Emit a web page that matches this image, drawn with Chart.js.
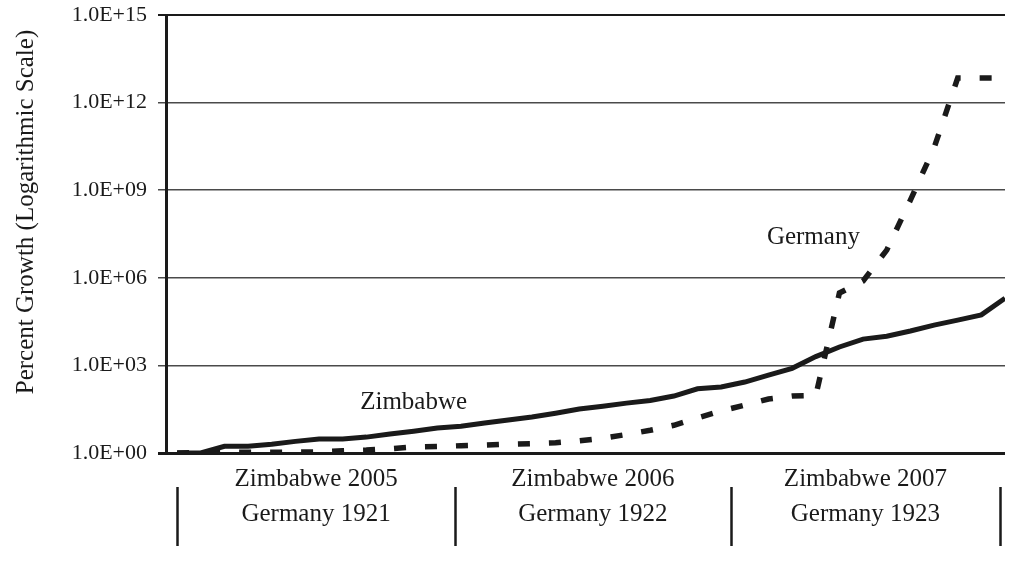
<!DOCTYPE html>
<html>
<head>
<meta charset="utf-8">
<script src="https://cdn.jsdelivr.net/npm/chart.js@4/dist/chart.umd.min.js"></script>
<style>
  html, body { margin: 0; padding: 0; background: #fff; }
  #wrap { width: 1014px; height: 562px; }
</style>
</head>
<body>
<div id="wrap"><canvas id="infl-chart"></canvas></div>
<script>
// monthly cumulative growth, index 0 = start of first year
var zimbabwe = [1, 1, 1.7, 1.7, 2.0, 2.5, 3.0, 3.0, 3.5, 4.5, 5.6, 7.2,
  8.3, 10.7, 13.5, 17, 23, 32, 40, 51, 63, 89, 158, 182,
  269, 468, 794, 2000, 4270, 7940, 10000, 15100, 24000, 35500, 53700, 200000];
var germany = [1, 1.05, 1.07, 1.07, 1.07, 1.07, 1.1, 1.2, 1.26, 1.4, 1.6, 1.66,
  1.78, 1.86, 2.0, 2.1, 2.24, 2.6, 3.2, 4.3, 6.0, 8.9, 15.8, 27.5,
  43.6, 70.8, 89, 93, 302000, 776000, 8.9e6, 4.57e8, 2.8e10, 6.9e12, 6.9e12, 6.9e12];
var periodTop = ['Zimbabwe 2005', 'Zimbabwe 2006', 'Zimbabwe 2007'];
var periodBottom = ['Germany 1921', 'Germany 1922', 'Germany 1923'];
var periodEdges = [0, 11.75, 23.4, 34.8];
var yTicks = [1, 1e3, 1e6, 1e9, 1e12, 1e15];

var serif = "'Liberation Serif', 'Times New Roman', serif";
var ink = '#1a1a1a';

function pts(arr) {
  var out = [];
  for (var i = 0; i < arr.length; i++) out.push({x: i, y: arr[i]});
  return out;
}

function sci(v) {
  var e = Math.round(Math.log10(v));
  return '1.0E+' + (e < 10 ? '0' : '') + e;
}

var extras = {
  id: 'extras',
  afterDraw: function(chart) {
    var c = chart.ctx, xs = chart.scales.x, ys = chart.scales.y;
    c.save();
    c.fillStyle = ink;
    c.strokeStyle = ink;
    c.textAlign = 'center';
    c.textBaseline = 'middle';
    c.font = '25px ' + serif;
    // series labels
    c.fillText('Zimbabwe', xs.getPixelForValue(10), ys.getPixelForValue(56));
    c.fillText('Germany', xs.getPixelForValue(26.9), ys.getPixelForValue(2.5e7));
    // period labels under the axis
    for (var i = 0; i < periodTop.length; i++) {
      var mid = (xs.getPixelForValue(periodEdges[i]) + xs.getPixelForValue(periodEdges[i + 1])) / 2;
      c.fillText(periodTop[i], mid, 479);
      c.fillText(periodBottom[i], mid, 514);
    }
    c.lineWidth = 2.5;
    for (var j = 0; j < periodEdges.length; j++) {
      var px = Math.round(xs.getPixelForValue(periodEdges[j])) + 0.5;
      c.beginPath();
      c.moveTo(px, 487);
      c.lineTo(px, 546);
      c.stroke();
    }
    // y axis title
    c.translate(26, 212);
    c.rotate(-Math.PI / 2);
    c.fillText('Percent Growth (Logarithmic Scale)', 0, 0);
    c.restore();
  }
};

var ctx = document.getElementById('infl-chart').getContext('2d');
var myChart = new Chart(ctx, {
  type: 'line',
  data: {
    datasets: [
      {
        label: 'Zimbabwe',
        data: pts(zimbabwe),
        borderColor: ink,
        borderWidth: 5,
        pointRadius: 0,
        tension: 0
      },
      {
        label: 'Germany',
        data: pts(germany),
        borderColor: ink,
        borderWidth: 5.5,
        borderDash: [12, 19],
        borderCapStyle: 'butt',
        pointRadius: 0,
        tension: 0
      }
    ]
  },
  options: {
    responsive: true,
    maintainAspectRatio: false,
    animation: false,
    layout: { padding: { left: 0, top: 15, right: 9, bottom: 109 } },
    plugins: {
      legend: { display: false },
      tooltip: { enabled: false }
    },
    scales: {
      x: {
        type: 'linear',
        display: false,
        min: -0.47,
        max: 35
      },
      y: {
        type: 'logarithmic',
        min: 1,
        max: 1e15,
        afterBuildTicks: function(scale) {
          scale.ticks = yTicks.map(function(v) { return {value: v}; });
        },
        afterFit: function(scale) {
          scale.width = 166;
          scale.paddingTop = 0;
          scale.paddingBottom = 0;
        },
        border: { color: ink, width: 3 },
        grid: {
          color: function(c) { return (c.tick && (c.tick.value === 1 || c.tick.value === 1e15)) ? ink : '#4a4a4a'; },
          lineWidth: function(c) {
            if (!c.tick) return 1.5;
            if (c.tick.value === 1) return 3;
            if (c.tick.value === 1e15) return 2;
            return 1.5;
          },
          tickLength: 8
        },
        ticks: {
          padding: 11,
          color: ink,
          font: { family: serif, size: 22 },
          callback: function(v) { return sci(v); }
        }
      }
    }
  },
  plugins: [extras]
});
</script>
</body>
</html>
